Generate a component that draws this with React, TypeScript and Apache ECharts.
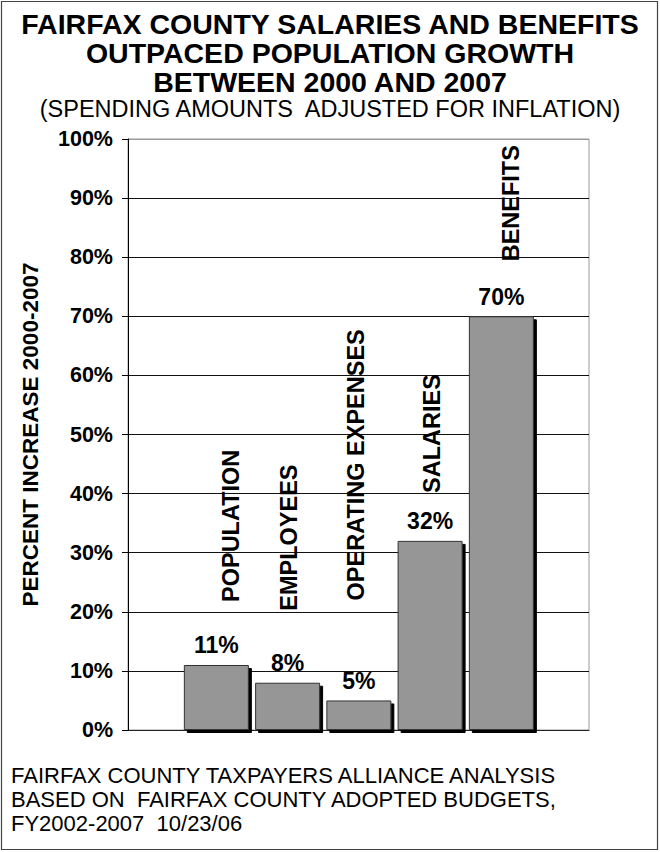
import React, { useEffect, useRef } from "react";
import * as echarts from "echarts";

// Percent increase, 2000-2007, per spending category
const categories = ["POPULATION", "EMPLOYEES", "OPERATING EXPENSES", "SALARIES", "BENEFITS"];
const increases = [11, 8, 5, 32, 70];

const titleLines = [
  "FAIRFAX COUNTY SALARIES AND BENEFITS",
  "OUTPACED POPULATION GROWTH",
  "BETWEEN 2000 AND 2007",
];
const subtitle = "(SPENDING AMOUNTS  ADJUSTED FOR INFLATION)";
const sourceLines = [
  "FAIRFAX COUNTY TAXPAYERS ALLIANCE ANALYSIS",
  "BASED ON  FAIRFAX COUNTY ADOPTED BUDGETS,",
  "FY2002-2007  10/23/06",
];
const yAxisTitle = "PERCENT INCREASE 2000-2007";

// where each vertical category name sits relative to its bar: [shift right, lift above top]
const nameNudge: [number, number][] = [
  [15, 63],
  [1, 72],
  [-3, 100],
  [2, 48],
  [10, 55],
];

const FONT = "'Liberation Sans', Arial, Helvetica, sans-serif";
const BAR_W = 65;

// gridlines are black, except the topmost one which closes the plot frame in grey
const gridLineColors = [...Array(10).fill("#111"), "#999"];

export default function App() {
  const ref = useRef<HTMLDivElement>(null);

  useEffect(() => {
    document.body.style.margin = "0";
    const chart = echarts.init(ref.current!, null, { renderer: "svg" });

    const barData = increases.map((v, i) => [i, v]);
    const nameData = increases.map((v, i) => ({
      value: [i, v],
      label: {
        formatter: categories[i],
        position: [BAR_W / 2 + nameNudge[i][0], -nameNudge[i][1]],
      },
    }));

    chart.setOption({
      animation: false,
      backgroundColor: "#fff",
      textStyle: { fontFamily: FONT, color: "#000" },
      title: [
        {
          text: titleLines.join("\n"),
          left: "center",
          top: 9,
          padding: 0,
          textStyle: { fontFamily: FONT, fontSize: 28.5, fontWeight: "bold", lineHeight: 29, color: "#000" },
        },
        {
          text: subtitle,
          left: "center",
          top: 97,
          padding: 0,
          textStyle: { fontFamily: FONT, fontSize: 23.5, fontWeight: "normal", lineHeight: 24, color: "#000" },
        },
        {
          text: sourceLines.join("\n"),
          left: 11,
          top: 763,
          padding: 0,
          textStyle: { fontFamily: FONT, fontSize: 22, fontWeight: "normal", lineHeight: 24, color: "#000" },
        },
      ],
      graphic: [
        {
          type: "rect",
          shape: { x: 1.5, y: 1.5, width: 656, height: 848 },
          style: { fill: "none", stroke: "#444", lineWidth: 1.2 },
          silent: true,
        },
      ],
      grid: {
        left: 128,
        right: 71,
        top: 139,
        bottom: 122,
        show: true,
        borderColor: "#999",
        borderWidth: 1,
        backgroundColor: "transparent",
      },
      xAxis: {
        type: "value",
        min: -1.24,
        max: 5.23,
        axisLine: { show: true, onZero: false, lineStyle: { color: "#222", width: 1 } },
        axisTick: { show: false },
        axisLabel: { show: false },
        splitLine: { show: false },
      },
      yAxis: {
        type: "value",
        min: 0,
        max: 100,
        interval: 10,
        name: yAxisTitle,
        nameLocation: "middle",
        nameGap: 86,
        nameTextStyle: { fontFamily: FONT, fontSize: 22.5, fontWeight: "bold", color: "#000" },
        axisLine: { show: true, onZero: false, lineStyle: { color: "#000", width: 1 } },
        axisTick: { show: true, inside: false, length: 6, lineStyle: { color: "#000" } },
        axisLabel: {
          formatter: "{value}%",
          margin: 15,
          fontFamily: FONT,
          fontSize: 21.5,
          fontWeight: "bold",
          color: "#000",
        },
        splitLine: { show: true, lineStyle: { color: gridLineColors, width: 1 } },
      },
      series: [
        {
          type: "bar",
          data: barData,
          barWidth: BAR_W,
          barGap: "-100%",
          z: 3,
          itemStyle: {
            color: "#969696",
            borderColor: "#333",
            borderWidth: 1,
            shadowColor: "#000",
            shadowBlur: 0,
            shadowOffsetX: 3,
            shadowOffsetY: 3,
          },
          label: {
            show: true,
            position: "top",
            distance: 8,
            formatter: (p: any) => `${p.value[1]}%`,
            fontFamily: FONT,
            fontSize: 23,
            fontWeight: "bold",
            color: "#000",
          },
        },
        {
          type: "bar",
          data: nameData,
          barWidth: BAR_W,
          barGap: "-100%",
          z: 4,
          silent: true,
          itemStyle: { color: "transparent", borderWidth: 0 },
          label: {
            show: true,
            rotate: 90,
            align: "left",
            verticalAlign: "middle",
            fontFamily: FONT,
            fontSize: 23.5,
            fontWeight: "bold",
            color: "#000",
          },
        },
      ],
    });

    return () => chart.dispose();
  }, []);

  return <div ref={ref} style={{ width: 660, height: 852 }} />;
}
